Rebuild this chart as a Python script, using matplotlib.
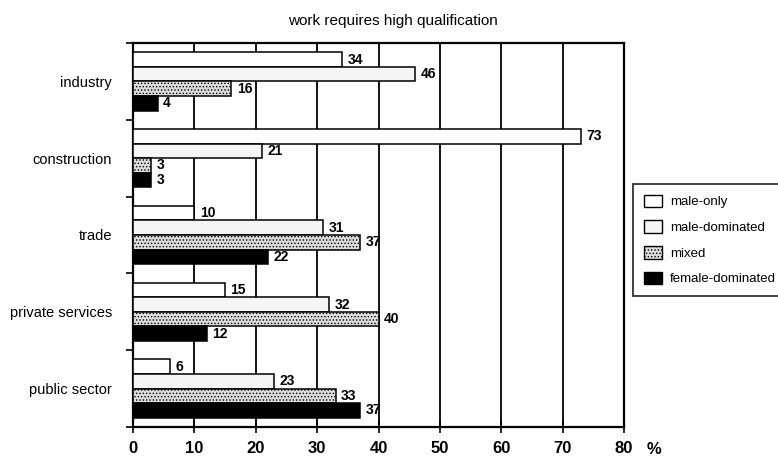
import matplotlib
matplotlib.use("Agg")
import matplotlib.pyplot as plt
import numpy as np
from matplotlib.patches import Patch

plt.rcParams['font.family'] = ['Liberation Sans', 'DejaVu Sans']
plt.rcParams['hatch.color'] = '#9a9a9a'
plt.rcParams['hatch.linewidth'] = 0.6

title = "work requires high qualification"
categories = ["industry", "construction", "trade", "private services", "public sector"]
series_names = ["male-only", "male-dominated", "mixed", "female-dominated"]
male_only = [34, 73, 10, 15, 6]
male_dominated = [46, 21, 31, 32, 23]
mixed = [16, 3, 37, 40, 33]
female_dominated = [4, 3, 22, 12, 37]
xticks = [0, 10, 20, 30, 40, 50, 60, 70, 80]

series = [male_only, male_dominated, mixed, female_dominated]
faces = ['white', '#f5f5f5', '#dcdcdc', 'black']
hatches = [None, None, '.....', None]

fig = plt.figure(figsize=(7.78, 4.61), dpi=100)
ax = fig.add_axes([133/778, 1-427/461, (624-133)/778, (427-43)/461])

y = np.arange(len(categories))
h = 0.19
for k, (vals, fc, ht) in enumerate(zip(series, faces, hatches)):
    pos = y + (k - 1.5) * h
    ax.barh(pos, vals, height=h, color=fc, edgecolor='black', linewidth=1.1,
            hatch=ht, zorder=3)
    for p, v in zip(pos, vals):
        ax.annotate(str(v), (v, p), xytext=(4, 0), textcoords='offset points',
                    va='center', ha='left', fontsize=10, fontweight='bold', zorder=4)

ax.set_xlim(0, 80)
ax.set_ylim(len(categories) - 0.5, -0.5)
ax.set_xticks(xticks)
ax.set_xticklabels([str(t) for t in xticks], fontsize=12, fontweight='bold')
ax.set_yticks(y)
ax.set_yticklabels(categories, fontsize=10.5)
ax.tick_params(axis='y', which='major', length=0, pad=15)
ax.set_yticks(np.arange(-0.5, len(categories), 1.0), minor=True)
ax.tick_params(axis='y', which='minor', length=5, width=1.2, direction='out')
ax.tick_params(axis='x', which='major', length=8, width=1.2, direction='inout', pad=6)
ax.grid(axis='x', color='black', linewidth=1.3, zorder=0)
ax.set_axisbelow(True)
for s in ax.spines.values():
    s.set_linewidth(1.6)

ax.text(1.047, -0.058, "%", transform=ax.transAxes, fontsize=12, fontweight='bold',
        ha='left', va='center')

fig.text(393/778, 1-21/461, title, ha='center', va='center', fontsize=11)

handles = [Patch(facecolor=fc, edgecolor='black', hatch=ht, linewidth=1.0)
           for fc, ht in zip(faces, hatches)]
leg = fig.legend(handles, series_names, loc='upper left',
                 bbox_to_anchor=(633/778, 1-184/461), fontsize=9.5,
                 frameon=True, fancybox=False, edgecolor='black',
                 handlelength=1.4, handleheight=1.1, labelspacing=0.9,
                 handletextpad=0.6, borderpad=0.8, borderaxespad=0)
leg.get_frame().set_linewidth(1.3)

fig.savefig("out.png", dpi=100)
